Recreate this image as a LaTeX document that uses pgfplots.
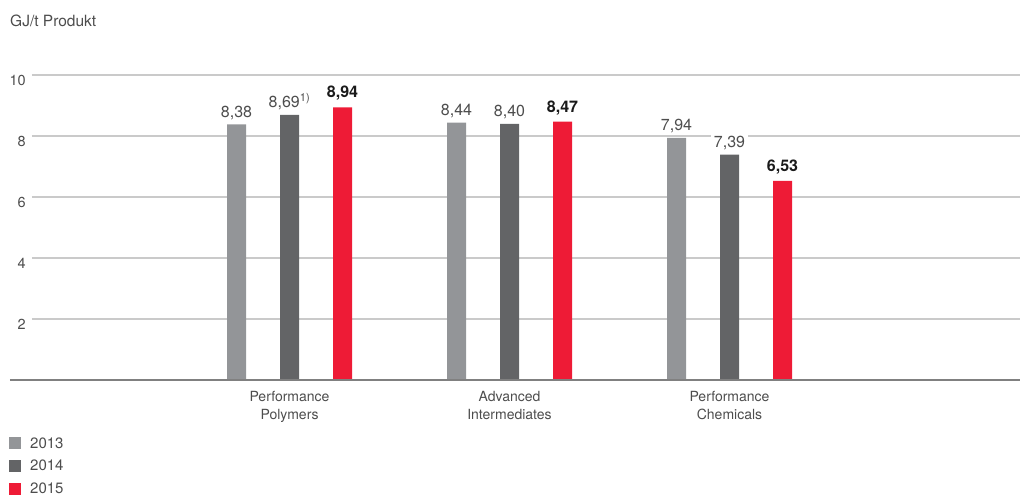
\documentclass[border=0pt]{standalone}
\usepackage{fontspec}
\setmainfont{TeX Gyre Heros}
\usepackage{pgfplots}
\pgfplotsset{compat=1.18}
\definecolor{c13}{HTML}{939598}
\definecolor{c14}{HTML}{636466}
\definecolor{c15}{HTML}{EE1B36}
\definecolor{gridc}{HTML}{CACACA}
\definecolor{basec}{HTML}{808080}
\definecolor{txt}{HTML}{4D4D4D}
\definecolor{txtb}{HTML}{1A1A1A}
\pgfplotsset{sq legend/.style={legend image code/.code={\fill[##1] (0pt,-6pt) rectangle (12pt,6pt); \path (19pt,0pt);}}}
\begin{document}
\begin{tikzpicture}[x=1pt,y=1pt]
\useasboundingbox (0,0) rectangle (1022,498);
\node[anchor=base west, inner sep=0pt, font=\fontsize{15.5}{18}\selectfont, text=txt] at (10,471) {GJ/t Produkt};
\begin{axis}[
 at={(32pt,118pt)}, anchor=south west,
 scale only axis, width=988pt, height=305pt,
 xmin=-1.1705, xmax=3.3205, ymin=0, ymax=10,
 ybar, bar width=19pt,
 axis line style={draw=none}, tick style={draw=none},
 ytick={2,4,6,8,10}, ymajorgrids, grid style={gridc, line width=1.5pt},
 xtick={0,1,2},
 xticklabels={{Performance\\Polymers},{Advanced\\Intermediates},{Performance\\Chemicals}},
 xticklabel style={align=center, anchor=north, inner sep=0pt, yshift=-7pt, font=\fontsize{14}{18}\selectfont, text=txt},
 yticklabel style={anchor=east, inner sep=0pt, xshift=-6pt, yshift=-5pt, font=\fontsize{14.5}{17}\selectfont, text=txt},
 /pgf/number format/assume math mode=true,
 clip=false,
 nodes near coords, point meta=explicit symbolic,
 nodes near coords style={font=\fontsize{16}{19}\selectfont, text=txt, anchor=base, inner xsep=3pt, inner ysep=1pt, fill=white, yshift=7pt},
 legend style={at={(axis description cs:-0.0233,-0.181)}, anchor=north west, draw=none, fill=none, inner sep=0pt, row sep=6.5pt, font=\fontsize{15}{17}\selectfont, text=txt, cells={anchor=west, inner sep=0pt}},
 legend cell align=left,
]
\addplot[fill=c13, draw=none, bar shift=-53pt, sq legend] coordinates {(0,8.38) [8,38] (1,8.44) [8,44] (2,7.94) [7,94]};
\addplot[fill=c14, draw=none, bar shift=0pt, sq legend] coordinates {(0,8.69) [{8,69\textsuperscript{1)}}] (1,8.40) [8,40] (2,7.39) [7,39]};
\addplot[fill=c15, draw=none, bar shift=53pt, sq legend, every node near coord/.append style={font=\fontsize{16}{19}\selectfont\bfseries, text=txtb, yshift=2.5pt}] coordinates {(0,8.94) [8,94] (1,8.47) [8,47] (2,6.53) [6,53]};
\draw[basec, line width=2pt] ([xshift=-22pt]rel axis cs:0,0) -- (rel axis cs:1,0);
\legend{2013,2014,2015}
\end{axis}
\end{tikzpicture}
\end{document}
